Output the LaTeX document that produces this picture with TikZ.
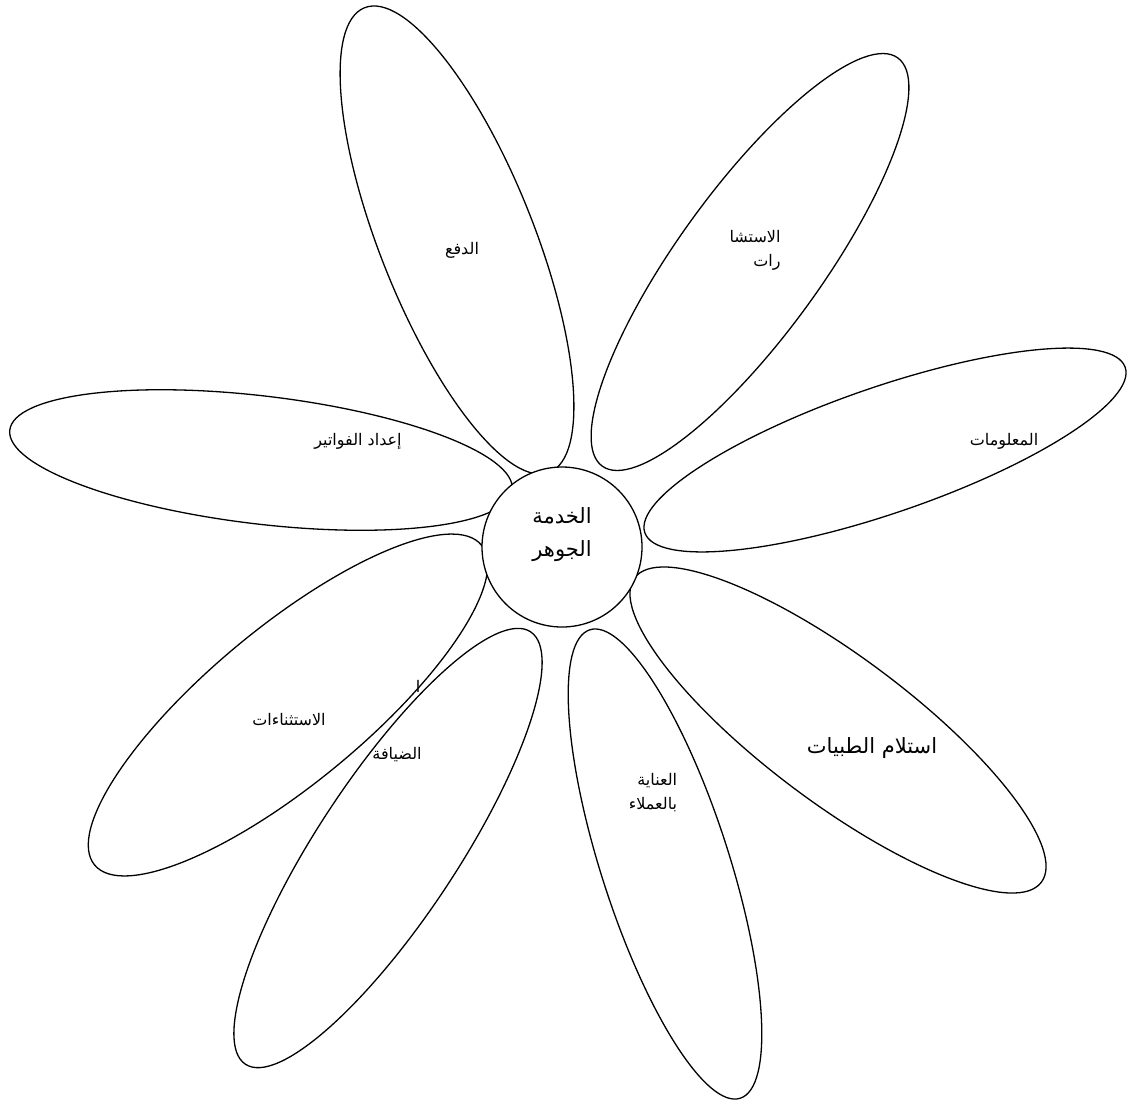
\documentclass[tikz,border=0pt]{standalone}
\usepackage{fontspec}
\newfontfamily\arabicfont[Script=Arabic]{DejaVu Sans}
\TeXXeTstate=1
\tikzset{
  petal/.style={draw=black, line width=1.3pt},
  core/.style={draw=black, line width=1.3pt, fill=white},
  lbl/.style={font=\arabicfont\fontsize{16}{24}\selectfont, align=right, inner sep=0pt},
  biglbl/.style={font=\arabicfont\fontsize{21}{33}\selectfont, align=center, inner sep=0pt}
}
\begin{document}
\begin{tikzpicture}[x=1pt,y=1pt]
\useasboundingbox (0,0) rectangle (1131,-1104);
% petals
\draw[petal, rotate around={111.7:(457,-240)}] (457,-240) ellipse (250 and 77);
\draw[petal, rotate around={54.1:(750,-262)}] (750,-262) ellipse (252 and 72);
\draw[petal, rotate around={19:(885,-450)}] (885,-450) ellipse (254 and 63);
\draw[petal, rotate around={-36.8:(838,-730)}] (838,-730) ellipse (254 and 73);
\draw[petal, rotate around={-72.2:(665,-864)}] (665,-864) ellipse (246 and 64);
\draw[petal, rotate around={56.6:(388,-848)}] (388,-848) ellipse (259 and 70);
\draw[petal, rotate around={39.6:(288,-705)}] (288,-705) ellipse (251 and 78);
\draw[petal, rotate around={-6.8:(261,-460)}] (261,-460) ellipse (253 and 64);
% core
\node[core, circle, minimum size=160pt, inner sep=0pt] (core) at (562,-547) {};
\node[biglbl] (coretext) at (562,-535) {\beginR الخدمة\endR\\\beginR الجوهر\endR};
% labels
\node[lbl] (t1) at (462,-250) {\beginR الدفع\endR};
\node[lbl] (t2) at (755,-250) {\beginR الاستشا\endR\\\beginR رات\endR};
\node[lbl] (t3) at (1004,-441) {\beginR المعلومات\endR};
\node[biglbl] (t4) at (872,-748) {\beginR استلام الطبيات\endR};
\node[lbl] (t5) at (653,-793) {\beginR العناية\endR\\\beginR بالعملاء\endR};
\node[lbl] (t6a) at (418,-686) {\beginR ا\endR};
\node[lbl] (t6) at (397,-755) {\beginR الضيافة\endR};
\node[lbl] (t7) at (289,-720) {\beginR الاستثناءات\endR};
\node[lbl] (t8) at (358,-441) {\beginR إعداد الفواتير\endR};
\end{tikzpicture}
\end{document}
